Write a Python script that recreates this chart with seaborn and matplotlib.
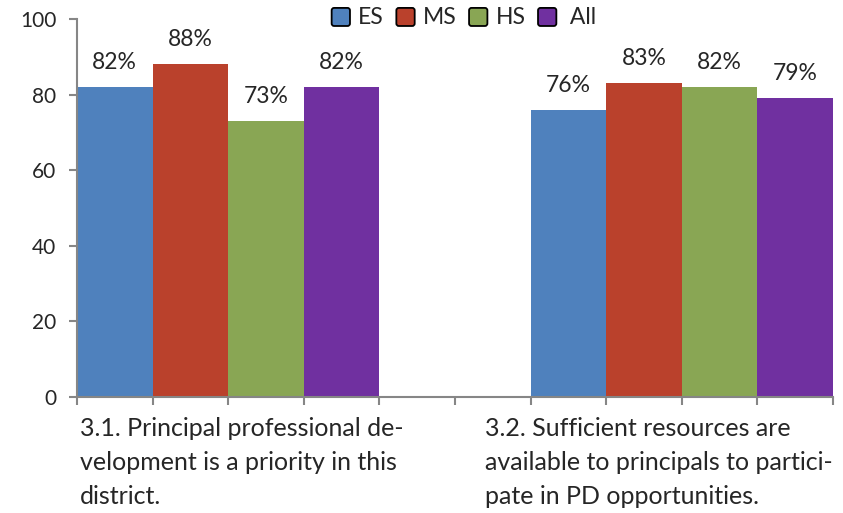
import pandas as pd
import numpy as np
import matplotlib
matplotlib.use('Agg')
import matplotlib.pyplot as plt
from matplotlib.patches import Patch, FancyBboxPatch
from matplotlib.legend_handler import HandlerPatch
import seaborn as sns

sns.set_theme(style='white')
plt.rcParams['font.family'] = ['Lato', 'DejaVu Sans']

# data
items = ['3.1', '3.2']
item_labels = ['3.1. Principal professional de-\nvelopment is a priority in this\ndistrict.',
               '3.2. Sufficient resources are\navailable to principals to partici-\npate in PD opportunities.']
levels = ['ES', 'MS', 'HS', 'All']
es = [82, 76]
ms = [88, 83]
hs = [73, 82]
all_ = [82, 79]
colors = ['#4F81BD', '#BA412C', '#89A654', '#7030A0']

df = pd.DataFrame({'item': items * 4,
                   'level': np.repeat(levels, 2),
                   'value': es + ms + hs + all_})

fig = plt.figure(figsize=(8.43, 5.13), dpi=100)
ax = fig.add_axes([77/843, 1 - 397/513, 756/843, 378/513])

bw = 1/6
sns.barplot(data=df, x='item', y='value', hue='level', palette=colors,
            width=4*bw, saturation=1, linewidth=0, ax=ax, legend=False)

for c in ax.containers:
    ax.bar_label(c, fmt='%.0f%%', padding=10, fontsize=16.5)

ax.set_xlim(-2*bw, 1 + 2*bw)
ax.set_ylim(0, 100)
ax.set_yticks(range(0, 101, 20))
ax.set_xticks(np.arange(-2*bw, 1 + 2*bw + 1e-9, bw))
ax.set_xticklabels([])
ax.set_xlabel('')
ax.set_ylabel('')
ax.tick_params(axis='y', labelsize=15, length=6, width=1.5, color='#868686',
               direction='out', left=True, pad=9)
ax.tick_params(axis='x', length=6, width=1.5, color='#868686',
               direction='out', bottom=True)
for side in ['top', 'right']:
    ax.spines[side].set_visible(False)
for side in ['left', 'bottom']:
    ax.spines[side].set_color('#868686')
    ax.spines[side].set_linewidth(1.5)

# category labels under the axis
trans = matplotlib.transforms.blended_transform_factory(ax.transData, ax.transAxes)
ax.text(0 - 0.327, -0.052, item_labels[0], transform=trans, ha='left', va='top',
        fontsize=18, linespacing=1.6)
ax.text(1 - 0.434, -0.052, item_labels[1], transform=trans, ha='left', va='top',
        fontsize=18, linespacing=1.6)


def rounded_box(legend, orig_handle, xdescent, ydescent, width, height, fontsize):
    return FancyBboxPatch((-xdescent, -ydescent - 2), width, height + 2,
                          boxstyle='round,pad=0,rounding_size=1.8')


handles = [Patch(facecolor=c, edgecolor='black', linewidth=1.3) for c in colors]
ax.legend(handles, ['ES', 'MS', 'HS', ' All'], loc='center', ncol=4,
          bbox_to_anchor=(0.512, 1.005), frameon=False, fontsize=16.5,
          handlelength=0.8, handleheight=0.65, handletextpad=0.35, columnspacing=0.55,
          handler_map={Patch: HandlerPatch(patch_func=rounded_box)})

fig.savefig('out.png', dpi=100)
